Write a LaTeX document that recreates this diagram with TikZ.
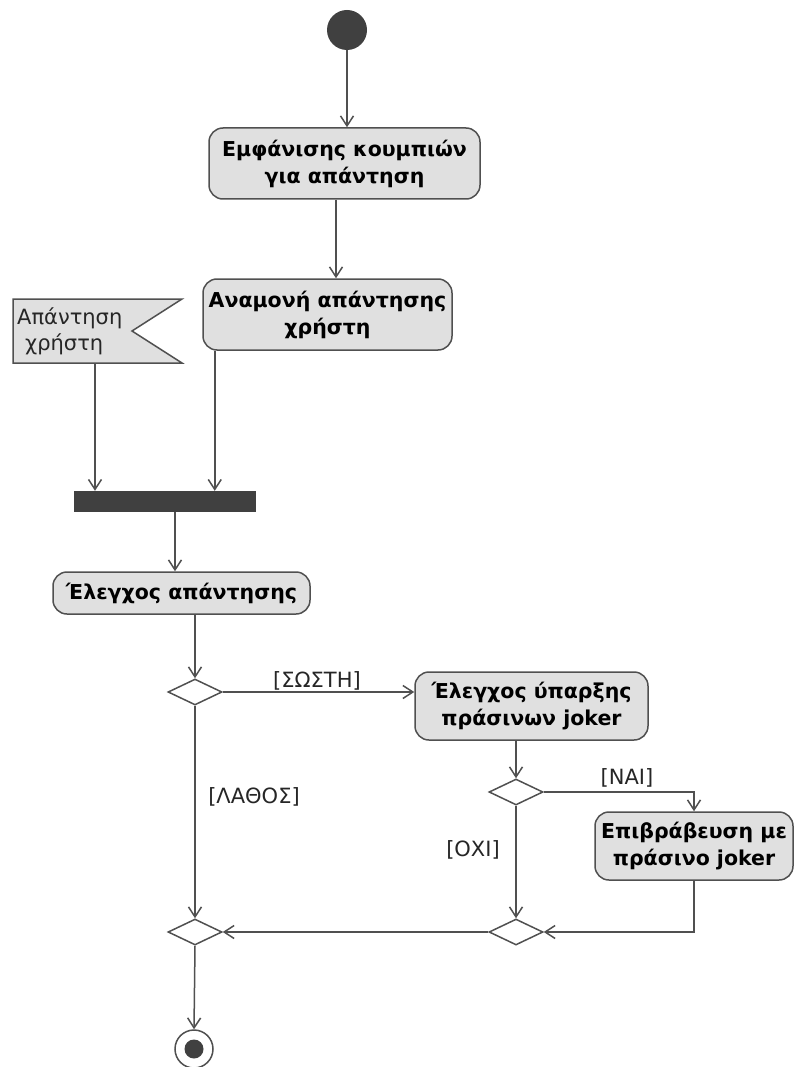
\documentclass[tikz,border=0pt]{standalone}
\usepackage{fontspec}
\setmainfont{DejaVu Sans}
\usetikzlibrary{arrows.meta,shapes.geometric,calc}
\definecolor{linec}{RGB}{80,80,80}
\definecolor{boxfill}{RGB}{224,224,224}
\definecolor{darkc}{RGB}{64,64,64}
\begin{document}
\begin{tikzpicture}[x=1pt,y=-1pt,
  action/.style={draw=linec, fill=boxfill, rounded corners=14pt, line width=1.5pt,
    inner sep=0pt, align=center, font=\fontsize{20.5}{27}\selectfont\bfseries},
  decision/.style={diamond, draw=linec, fill=white, line width=1.5pt, inner sep=0pt,
    minimum width=54pt, minimum height=26pt, aspect=2},
  guard/.style={inner sep=0pt, font=\fontsize{21}{24}\selectfont, text=black!85},
  flow/.style={draw=linec, line width=1.5pt, -{Straight Barb[length=10pt,width=13pt]}}]
\useasboundingbox (0,0) rectangle (794,1067);
\fill[white] (0,0) rectangle (794,1067);

% initial node
\node[circle, fill=darkc, minimum size=40pt, inner sep=0pt] (start) at (347,30) {};

% actions
\node[action, minimum width=271pt, minimum height=71pt] (show) at (344.5,163.5)
  {Εμφάνισης κουμπιών\\για απάντηση};
\node[action, minimum width=249pt, minimum height=71pt] (wait) at (327.5,314.5)
  {Αναμονή απάντησης\\χρήστη};

% incoming signal
\draw[draw=linec, fill=boxfill, line width=1.5pt]
  (13,299) -- (182,299) -- (132,331) -- (182,363) -- (13,363) -- cycle;
\node[inner sep=0pt, align=left, anchor=west, font=\fontsize{21}{26}\selectfont, text=black!85]
  (signal) at (17,331) {Απάντηση\\\hspace*{8pt}χρήστη};
\coordinate (sigbot) at (95,363);

% join bar
\node[rectangle, fill=darkc, minimum width=182pt, minimum height=21pt, inner sep=0pt]
  (join) at (165,501.5) {};

\node[action, minimum width=257pt, minimum height=42pt] (check) at (181.5,593)
  {Έλεγχος απάντησης};

\node[decision] (d1) at (195,692) {};
\node[action, minimum width=233pt, minimum height=68pt] (joker) at (531.5,706)
  {Έλεγχος ύπαρξης\\πράσινων joker};
\node[decision] (d2) at (516,792) {};
\node[action, minimum width=198pt, minimum height=68pt] (reward) at (694,846)
  {Επιβράβευση με\\πράσινο joker};
\node[decision] (d3) at (195,932) {};
\node[decision] (d4) at (516,932) {};

% final node
\node[circle, draw=linec, fill=white, line width=1.5pt, minimum size=38pt, inner sep=0pt]
  (final) at (194,1049) {};
\fill[darkc] (final.center) circle (9.5);

% flows
\draw[flow] (start.south) -- (start.south |- show.north);
\draw[flow] ([xshift=-8.5pt]show.south) -- ([xshift=-8.5pt]show.south |- wait.north);
\draw[flow] (sigbot) -- (sigbot |- join.north);
\draw[flow] ([xshift=12.5pt]wait.south west) -- ([xshift=12.5pt]wait.south west |- join.north);
\draw[flow] ([xshift=10pt]join.south) -- ([xshift=10pt]join.south |- check.north);
\draw[flow] (d1.north |- check.south) -- (d1.north);
\draw[flow] (d1.east) -- (d1.east -| joker.west);
\draw[flow] (d2.north |- joker.south) -- (d2.north);
\draw[flow] (d2.east) -| (reward.north);
\draw[flow] (d2.south) -- (d4.north);
\draw[flow] (reward.south) |- (d4.east);
\draw[flow] (d4.west) -- (d3.east);
\draw[flow] (d1.south) -- (d3.north);
\draw[flow] (d3.south) -- (final.north);

% guards
\node[guard] (gok) at (317,681) {[ΣΩΣΤΗ]};
\node[guard] (gwrong) at (254,797) {[ΛΑΘΟΣ]};
\node[guard] (gyes) at (627,778) {[ΝΑΙ]};
\node[guard] (gno) at (473,850) {[ΟΧΙ]};
\end{tikzpicture}
\end{document}
